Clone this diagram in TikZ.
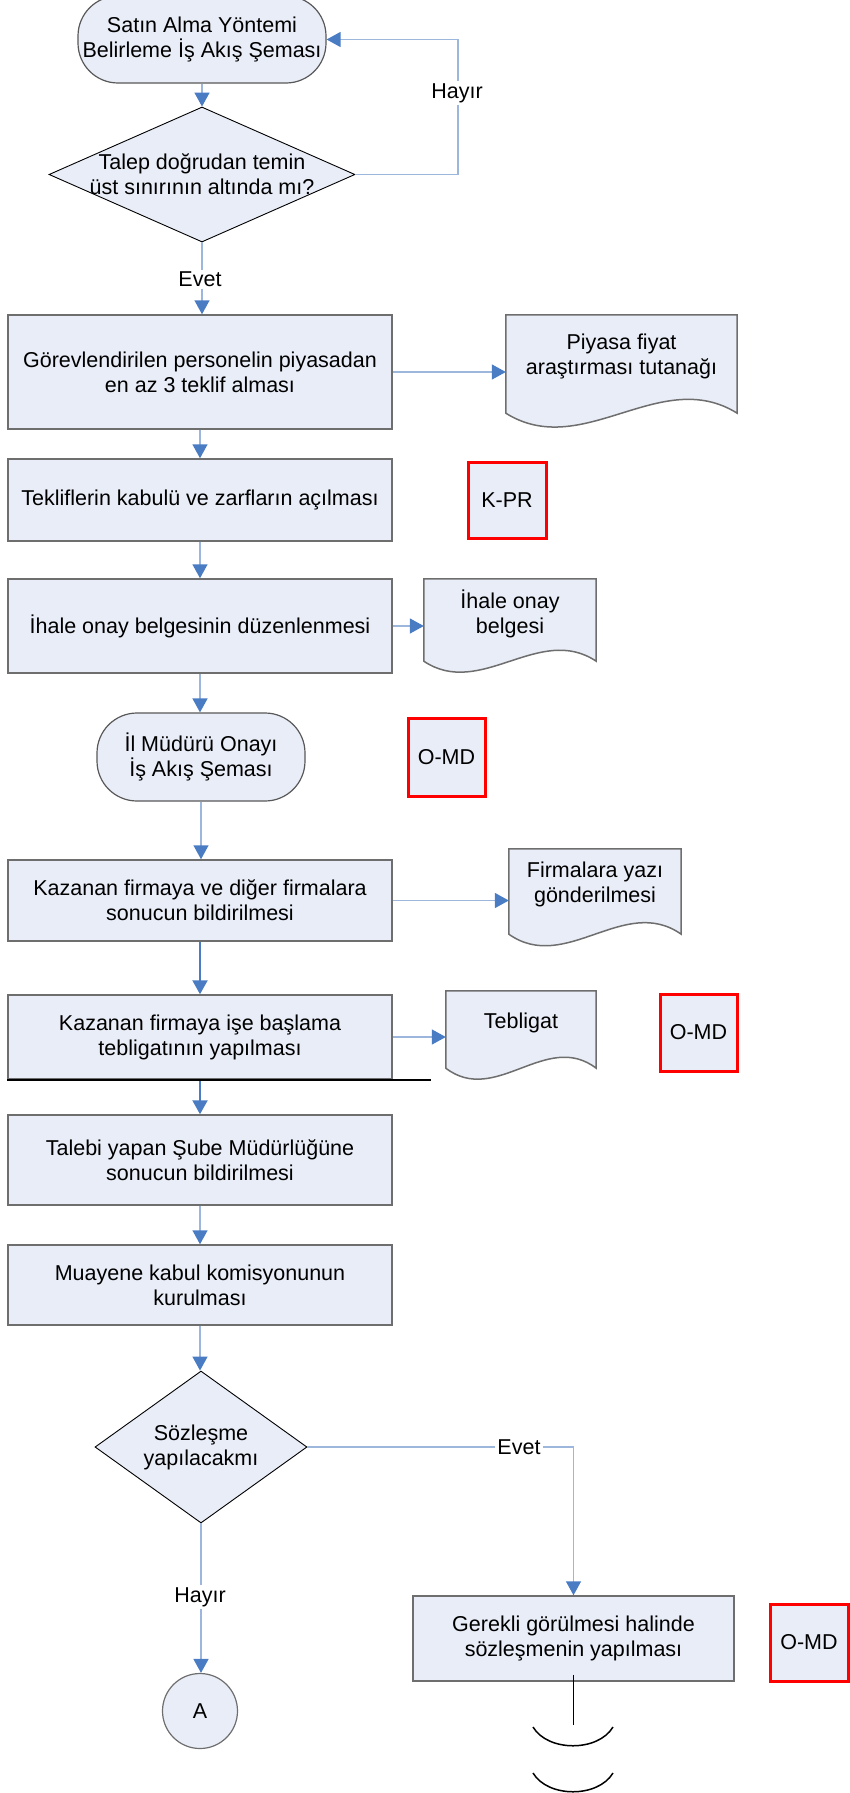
\documentclass[tikz,border=0pt]{standalone}
\usepackage{fontspec}
\setmainfont{Liberation Sans}
\usetikzlibrary{arrows.meta,shapes.geometric,backgrounds,calc}
\definecolor{boxfill}{HTML}{E9EDF7}
\definecolor{boxdraw}{HTML}{6E6E6E}
\definecolor{linecol}{HTML}{9CB6DC}
\definecolor{arrowblue}{HTML}{4A7CC4}
\definecolor{redbox}{HTML}{FF0000}
\newcommand{\mydocshape}[4]{\path[docline] (#1.north west) -- (#1.north east) -- ([yshift=-#3pt]#1.south east) .. controls +(-#2,-#4) and +(#2,#4) .. ([yshift=-#3pt]#1.south west) -- cycle;}
\begin{document}
\begin{tikzpicture}[x=1pt,y=-1pt,
 every node/.style={font=\fontsize{21.5}{25}\selectfont, align=center, inner sep=0pt},
 proc/.style={rectangle, draw=boxdraw, fill=boxfill, line width=1.5pt, minimum width=384pt},
 term/.style={rectangle, rounded corners=40pt, draw=boxdraw!80!black, fill=boxfill, line width=1.2pt},
 dec/.style={diamond, draw=black, fill=boxfill, line width=0.9pt, inner sep=-10pt},
 refbox/.style={rectangle, draw=redbox, fill=boxfill, line width=3pt},
 doctext/.style={rectangle},
 docline/.style={draw=boxdraw, fill=boxfill, line width=1.5pt},
 conn/.style={draw=linecol, line width=1.5pt, -{Triangle[width=15pt,length=14pt,color=arrowblue]}},
 connthick/.style={draw=arrowblue, line width=2.2pt, -{Triangle[width=15pt,length=14pt,color=arrowblue]}},
 lbl/.style={fill=white, inner sep=2pt},
 blk/.style={draw=black, line width=1.8pt},
]
\useasboundingbox (0,0) rectangle (849,1793);

\node[term, minimum width=248pt, minimum height=87pt] (start) at (202,39.5) {Satın Alma Yöntemi\\Belirleme İş Akış Şeması};
\node[dec, minimum width=306pt, minimum height=135pt, aspect=2.27] (d1) at (202,174.5) {Talep doğrudan temin\\üst sınırının altında mı?};
\node[proc, minimum height=114pt] (b1) at (200,372) {Görevlendirilen personelin piyasadan\\en az 3 teklif alması};
\node[doctext, minimum width=231pt, minimum height=83pt] (doc1) at (621.5,356.5) {Piyasa fiyat\\araştırması tutanağı};
\node[proc, minimum height=82pt] (b2) at (200,500) {Tekliflerin kabulü ve zarfların açılması};
\node[refbox, minimum width=78pt, minimum height=76pt] (kpr) at (507,500) {K-PR};
\node[proc, minimum height=94pt] (b3) at (200,626) {İhale onay belgesinin düzenlenmesi};
\node[doctext, minimum width=172pt, minimum height=69pt] (doc2) at (510,613.5) {İhale onay\\belgesi};
\node[term, minimum width=208pt, minimum height=88pt] (t2) at (201,757) {İl Müdürü Onayı\\İş Akış Şeması};
\node[refbox, minimum width=77pt, minimum height=78pt] (omd1) at (446.5,757) {O-MD};
\node[proc, minimum height=81pt] (b4) at (200,900.5) {Kazanan firmaya ve diğer firmalara\\sonucun bildirilmesi};
\node[doctext, minimum width=172pt, minimum height=71pt] (doc3) at (595,884.5) {Firmalara yazı\\gönderilmesi};
\node[proc, minimum height=84pt] (b5) at (200,1037) {Kazanan firmaya işe başlama\\tebligatının yapılması};
\node[doctext, minimum width=150pt, minimum height=64pt] (doc4) at (521,1023) {Tebligat};
\node[refbox, minimum width=77pt, minimum height=77pt] (omd2) at (698.5,1032.5) {O-MD};
\node[proc, minimum height=90pt] (b6) at (200,1160) {Talebi yapan Şube Müdürlüğüne\\sonucun bildirilmesi};
\node[proc, minimum height=80pt] (b7) at (200,1285) {Muayene kabul komisyonunun\\kurulması};
\node[dec, minimum width=212pt, minimum height=152pt, aspect=1.39] (d2) at (201,1447) {Sözleşme\\yapılacakmı};
\node[circle, draw=boxdraw, fill=boxfill, line width=1.2pt, minimum size=75pt] (A) at (200,1711) {A};
\node[proc, minimum width=321pt, minimum height=85pt] (b8) at (573.5,1638.5) {Gerekli görülmesi halinde\\sözleşmenin yapılması};
\node[refbox, minimum width=78pt, minimum height=77pt] (omd3) at (809,1642.5) {O-MD};

\begin{pgfonlayer}{background}
\mydocshape{doc1}{77}{15}{48}
\mydocshape{doc2}{57}{13}{38}
\mydocshape{doc3}{57}{14}{40}
\mydocshape{doc4}{50}{13}{38}
\end{pgfonlayer}

% connectors
\draw[conn] (start.south) -- (start.south |- d1.north);
\coordinate (hc) at (458,39.5);
\draw[conn] (d1.east) -| (hc) -- (start.east);
\node[lbl] (hayir1) at (457,93) {Hayır};
\draw[conn] (d1.south) -- (d1.south |- b1.north);
\node[lbl] (evet1) at (200,279) {Evet};
\draw[conn] (b1.east) -- (b1.east -| doc1.west);
\draw[conn] (b1.south) -- (b2.north);
\draw[conn] (b2.south) -- (b3.north);
\draw[conn] (b3.east) -- (b3.east -| doc2.west);
\draw[conn] (b3.south) -- (b3.south |- t2.north);
\draw[conn] (t2.south) -- (t2.south |- b4.north);
\draw[conn] (b4.east) -- (b4.east -| doc3.west);
\draw[connthick] (b4.south) -- (b5.north);
\draw[conn] (b5.east) -- (b5.east -| doc4.west);
\draw[connthick] (b5.south) -- (b6.north);
\draw[blk] (b5.south west) -- ++(424,0);
\draw[conn] (b6.south) -- (b7.north);
\draw[conn] (b7.south) -- (b7.south |- d2.north);
\draw[conn] (d2.east) -| (b8.north);
\node[lbl] (evet2) at (519,1447) {Evet};
\draw[conn] (d2.south) -- (d2.south |- A.north);
\node[lbl] (hayir2) at (200,1597) {Hayır};
\coordinate (e1) at (573.5,1725);
\draw[draw=black, line width=1.5pt] ([yshift=7pt]b8.south) -- (e1);
\draw[draw=black, line width=1.5pt] (533,1727) .. controls (548,1752) and (598,1752) .. (613,1727);
\draw[draw=black, line width=1.5pt] (533,1773) .. controls (548,1798) and (598,1798) .. (613,1773);
\end{tikzpicture}
\end{document}
